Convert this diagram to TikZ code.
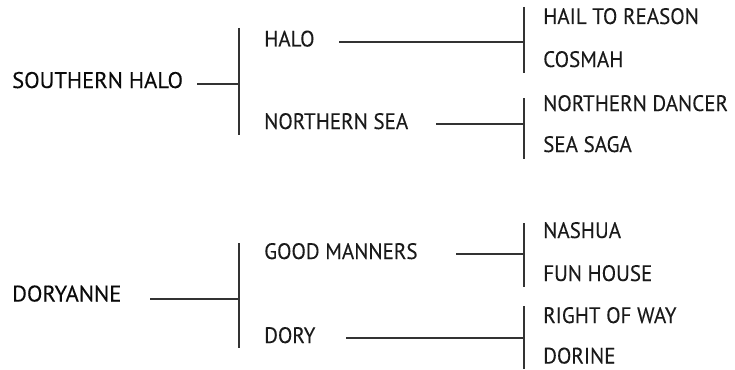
\documentclass[tikz,border=0pt]{standalone}
\usepackage{fontspec}
\setmainfont{PT Sans}
\newfontfamily\childfont[FakeStretch=0.94,FakeBold=0.1]{PT Sans}
\newfontfamily\rootfont[FakeBold=0.2]{PT Sans}
\definecolor{txt}{HTML}{1A1A1A}
\definecolor{roottxt}{HTML}{0A0A0A}
\definecolor{ln}{HTML}{333333}
\begin{document}
\begin{tikzpicture}[x=1pt,y=-1pt,
  lbl/.style={anchor=base west,inner sep=0pt,text=txt,font=\childfont\fontsize{22.4}{22.4}\selectfont},
  rootlbl/.style={anchor=base west,inner sep=0pt,text=roottxt,font=\rootfont\fontsize{22.6}{22.6}\selectfont},
  conn/.style={draw=ln,line width=1.2pt}]
\useasboundingbox (0,0) rectangle (735,369);
% labels
\node[rootlbl] (sh) at (12,88) {SOUTHERN HALO};
\node[lbl] (halo) at (264,46.5) {HALO};
\node[lbl] (ns) at (264,129) {NORTHERN SEA};
\node[lbl] (htr) at (543,24) {HAIL TO REASON};
\node[lbl] (cos) at (543,67) {COSMAH};
\node[lbl] (nd) at (543,111) {NORTHERN DANCER};
\node[lbl] (ss) at (543,152) {SEA SAGA};
\node[rootlbl] (dor) at (12,301.5) {DORYANNE};
\node[lbl] (gm) at (264,259) {GOOD MANNERS};
\node[lbl] (dory) at (264,343) {DORY};
\node[lbl] (nas) at (543,238) {NASHUA};
\node[lbl] (fh) at (543,281) {FUN HOUSE};
\node[lbl] (row) at (543,323) {RIGHT OF WAY};
\node[lbl] (dorine) at (543,363.5) {DORINE};
% connector coordinates
\coordinate (shs) at (197,84);   \coordinate (shj) at (239,84);
\coordinate (sht) at (239,28);   \coordinate (shb) at (239,135);
\coordinate (has) at (339,42);   \coordinate (haj) at (524,42);
\coordinate (hat) at (524,7);    \coordinate (hab) at (524,73);
\coordinate (nss) at (436,124);  \coordinate (nsj) at (524,124);
\coordinate (nst) at (524,98);   \coordinate (nsb) at (524,159);
\coordinate (dos) at (150,299);  \coordinate (doj) at (239,299);
\coordinate (dot) at (239,243);  \coordinate (dob) at (239,348);
\coordinate (gms) at (456,254);  \coordinate (gmj) at (524,254);
\coordinate (gmt) at (524,223);  \coordinate (gmb) at (524,287);
\coordinate (dys) at (346,338);  \coordinate (dyj) at (524,338);
\coordinate (dyt) at (524,306);  \coordinate (dyb) at (524,369);
% connectors
\draw[conn] (shs) -- (shj); \draw[conn] (sht) -- (shb);
\draw[conn] (has) -- (haj); \draw[conn] (hat) -- (hab);
\draw[conn] (nss) -- (nsj); \draw[conn] (nst) -- (nsb);
\draw[conn] (dos) -- (doj); \draw[conn] (dot) -- (dob);
\draw[conn] (gms) -- (gmj); \draw[conn] (gmt) -- (gmb);
\draw[conn] (dys) -- (dyj); \draw[conn] (dyt) -- (dyb);
\end{tikzpicture}
\end{document}
